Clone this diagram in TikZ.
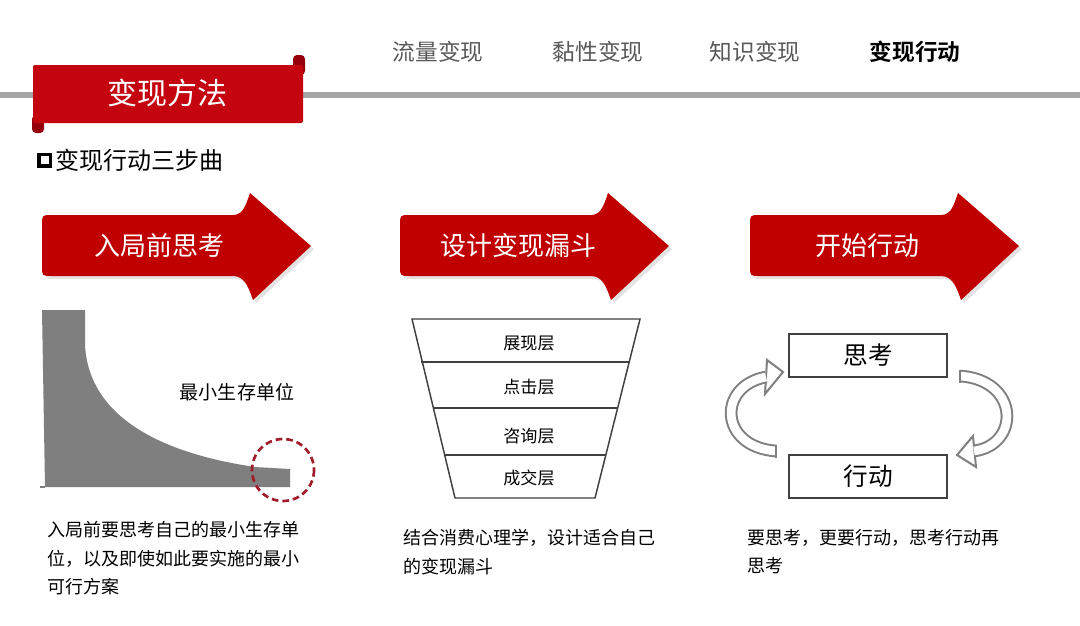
\documentclass[tikz,border=0pt]{standalone}
\usepackage{fontspec}
\setmainfont{Noto Sans CJK SC}[BoldFont={Noto Sans CJK SC Bold}]
\definecolor{bannerred}{RGB}{196,4,14}
\definecolor{tabred}{RGB}{150,0,12}
\definecolor{arrowred}{RGB}{192,0,0}
\definecolor{menugray}{RGB}{89,89,89}
\definecolor{linegray}{RGB}{166,166,166}
\definecolor{chartgray}{RGB}{127,127,127}
\definecolor{circred}{RGB}{160,28,40}
\definecolor{edgegray}{RGB}{64,64,64}
\definecolor{loopgray}{RGB}{128,128,128}
\begin{document}
\begin{tikzpicture}[x=0.75pt,y=-0.75pt,
  menu/.style={text=menugray,font=\fontsize{17pt}{20pt}\selectfont,inner sep=0},
  menuact/.style={text=black,font=\fontsize{17pt}{20pt}\selectfont\bfseries,inner sep=0},
  arrowtext/.style={text=white,font=\fontsize{19.5pt}{22pt}\selectfont,inner sep=0},
  bodytext/.style={anchor=north west,align=left,inner sep=0,font=\fontsize{13.5pt}{21.4pt}\selectfont},
  layer/.style={font=\fontsize{12.8pt}{15pt}\selectfont,inner sep=0},
  loopbox/.style={draw=edgegray,line width=1.1pt,minimum width=118.5pt,minimum height=32pt,font=\fontsize{18.5pt}{21pt}\selectfont},
  loopband/.style={draw=loopgray,line width=1.5pt,double=white,double distance=6.5pt},
  loophead/.style={draw=loopgray,fill=white,line width=1.5pt,line join=miter},
  pics/redarrow/.style={code={
    \fill[gray!22] (13,3) -- (193,3) to[out=0,in=-110] (211,-19) -- (272,34) -- (214,88) to[out=110,in=0] (193,64) -- (13,64) .. controls (3,64) .. (3,54) -- (3,13) .. controls (3,3) .. (13,3) -- cycle;
    \fill[arrowred] (10,0) -- (191,0) to[out=0,in=-110] (208,-22) -- (269,31) -- (211,85) to[out=110,in=0] (191,61) -- (10,61) .. controls (0,61) .. (0,51) -- (0,10) .. controls (0,0) .. (10,0) -- cycle;
  }}]
\useasboundingbox (0,0) rectangle (1080,625);
\fill[white] (0,0) rectangle (1080,625);

% top menu
\node[menu] (m1) at (438,52) {流量变现};
\node[menu] (m2) at (598,52) {黏性变现};
\node[menu] (m3) at (755,52) {知识变现};
\node[menuact] (m4) at (915,52) {变现行动};

% gray rule
\draw[linegray,line width=5pt] (0,95) -- (1080,95);

% banner
\fill[tabred,rounded corners=3pt] (293,55) rectangle (305,75);
\fill[tabred,rounded corners=3pt] (32,115) rectangle (44,133);
\fill[bannerred,rounded corners=1.5pt] (33,65) rectangle (303,123);
\node[text=white,font=\fontsize{22.5pt}{25pt}\selectfont,inner sep=0] (title) at (167,93) {变现方法};

% subtitle
\draw[black,line width=2.3pt] (39,154.5) rectangle (50.5,166);
\node[anchor=west,inner sep=0,font=\fontsize{18pt}{20pt}\selectfont] (sub) at (55,160) {变现行动三步曲};

% red arrows
\pic at (42,215) {redarrow};
\pic at (400,215) {redarrow};
\pic at (750,215) {redarrow};
\node[arrowtext] (a1) at (159,246) {入局前思考};
\node[arrowtext] (a2) at (518,246) {设计变现漏斗};
\node[arrowtext] (a3) at (867,246) {开始行动};

% chart
\fill[chartgray] (42,310) -- (85,310) -- (85,345) .. controls (88,405) and (140,450) .. (255,467) -- (290,469) -- (290,487) -- (45,487) -- cycle;
\draw[chartgray,line width=0.8pt] (40,487) -- (45,487);
\node[inner sep=0,font=\fontsize{14.3pt}{17pt}\selectfont] (msu) at (237,392) {最小生存单位};
\draw[circred,line width=2pt,dash pattern=on 5pt off 3pt] (283,470) circle (31);

% funnel
\draw[edgegray,line width=1.1pt,line join=miter] (412,319) -- (640,319) -- (595,498) -- (455,498) -- cycle;
\draw[edgegray,line width=1.1pt] (421,362) -- (630,362);
\draw[edgegray,line width=1.1pt] (433,408) -- (618,408);
\draw[edgegray,line width=1.1pt] (444,455) -- (606,455);
\node[layer] (l1) at (529,343) {展现层};
\node[layer] (l2) at (529,387) {点击层};
\node[layer] (l3) at (529,436) {咨询层};
\node[layer] (l4) at (529,478) {成交层};

% think / act loop
\node[loopbox] (think) at (868,355.5) {思考};
\node[loopbox] (act) at (868,476.5) {行动};
\coordinate (lt) at (776,451);
\coordinate (le) at (766,377);
\coordinate (rt) at (960,376);
\coordinate (re) at (974,451);
\draw[loophead] (767,360) -- (783,372) -- (765,394) -- cycle;
\draw[loopband] (lt) .. controls (719,447) and (717,386) .. (le);
\draw[loopgray,line width=1.5pt] (776,444.5) -- (776,457.5);
\draw[loophead] (973,436) -- (957,455) -- (976,467) -- cycle;
\draw[loopband] (rt) .. controls (1020,380) and (1020,445) .. (re);
\draw[loopgray,line width=1.5pt] (960,369.5) -- (960,382.5);

% body texts
\node[bodytext] (t1) at (47,521) {入局前要思考自己的最小生存单\\位，以及即使如此要实施的最小\\可行方案};
\node[bodytext] (t2) at (403,529) {结合消费心理学，设计适合自己\\的变现漏斗};
\node[bodytext] (t3) at (747,529) {要思考，更要行动，思考行动再\\思考};
\end{tikzpicture}
\end{document}
